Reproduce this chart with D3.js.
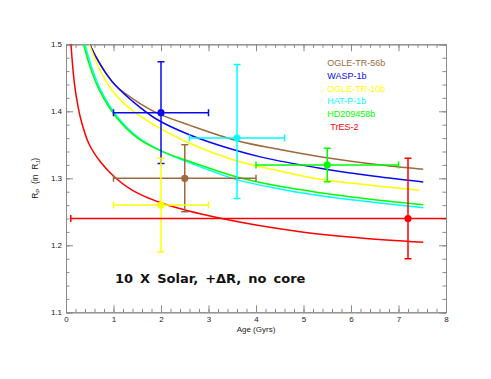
<!DOCTYPE html>
<html>
<head>
<meta charset="utf-8">
<script src="https://cdn.jsdelivr.net/npm/d3@7"></script>
<style>
  body { margin: 0; background: #fff; }
  .axis path, .axis line { stroke: #8a8a8a; }
  .axis text { fill: #222; font-size: 8px; font-family: "Liberation Sans", Arial, sans-serif; }
</style>
</head>
<body>
<svg id="chart"></svg>
<script>
var width = 491,
  height = 379;

var planets = ['OGLE-TR-56b', 'WASP-1b', 'OGLE-TR-10b', 'HAT-P-1b', 'HD209458b', 'TrES-2'];
var colors = ['#a0693d', '#0a0aef', '#ffff00', '#00ffff', '#00ff00', '#ff0000'];

// observed ages / radii with error bars
var obsAge = [2.5, 2.0, 2.0, 3.6, 5.5, 7.2];
var obsAgeLo = [1.0, 1.0, 1.0, 2.6, 4.0, 0.1];
var obsAgeHi = [4.0, 3.0, 3.0, 4.6, 7.0, 14.3];
var obsR = [1.30, 1.398, 1.26, 1.36, 1.32, 1.24];
var obsRLo = [1.25, 1.322, 1.19, 1.27, 1.295, 1.18];
var obsRHi = [1.35, 1.474, 1.33, 1.47, 1.345, 1.33];

// evolution tracks, [age, radius]
var trackOgle56 = [[0.5, 1.5], [0.64, 1.48], [0.84, 1.457], [1.05, 1.438], [1.4, 1.419], [1.9, 1.398],
  [2.61, 1.379], [3.6, 1.356], [4.5, 1.343], [5.45, 1.331], [6.5, 1.321], [7.52, 1.3134]];
var trackWasp1 = [[0.5, 1.5], [0.64, 1.48], [0.84, 1.4567], [1.05, 1.438], [1.4, 1.415], [1.9, 1.3885],
  [2.61, 1.3646], [3.46, 1.344], [4.09, 1.332], [5.35, 1.315], [6.5, 1.303], [7.52, 1.2945]];
var trackOgle10 = [[0.49, 1.5], [0.63, 1.475], [0.84, 1.445], [1.05, 1.424], [1.4, 1.401], [1.9, 1.378],
  [2.61, 1.352], [3.55, 1.327], [4.5, 1.311], [5.35, 1.2985], [6.5, 1.289], [7.44, 1.282]];
var trackHat1 = [[0.40, 1.5], [0.53, 1.468], [0.73, 1.432], [1.08, 1.392], [1.54, 1.36], [2.0, 1.341],
  [2.61, 1.323], [3.6, 1.298], [4.5, 1.284], [5.35, 1.274], [6.5, 1.264], [7.52, 1.2561]];
var trackHd209 = [[0.37, 1.5], [0.5, 1.468], [0.7, 1.432], [1.05, 1.392], [1.51, 1.36], [2.0, 1.341],
  [2.61, 1.325], [3.6, 1.302], [4.5, 1.288], [5.35, 1.2785], [6.5, 1.268], [7.52, 1.2606]];
var trackTres2 = [[0.105, 1.5], [0.15, 1.46], [0.21, 1.425], [0.316, 1.387], [0.48, 1.352], [0.72, 1.325],
  [1.02, 1.302], [1.4, 1.282], [2.04, 1.2625], [3.28, 1.24], [4.93, 1.2203], [6.2, 1.211], [7.52, 1.2045]];
var tracks = [trackOgle56, trackWasp1, trackOgle10, trackHat1, trackHd209, trackTres2];

var xTicks = d3.range(0, 9);
var yTicks = [1.1, 1.2, 1.3, 1.4, 1.5];

var margin = {top: 44.3, right: 45, bottom: 66.7, left: 66};
var plotW = width - margin.left - margin.right,
  plotH = height - margin.top - margin.bottom;

var x = d3.scaleLinear().domain([0, 8]).range([0, plotW]);
var y = d3.scaleLinear().domain([1.1, 1.5]).range([plotH, 0]);

var svg = d3.select('#chart')
  .attr('width', width)
  .attr('height', height)
  .style('font-family', '"Liberation Sans", Arial, sans-serif');

var g = svg.append('g')
  .attr('transform', 'translate(' + margin.left + ',' + margin.top + ')');

g.append('clipPath')
  .attr('id', 'clip')
  .append('rect')
  .attr('width', plotW)
  .attr('height', plotH);

// frame + ticks (inward, all sides)
var xMinor = d3.range(0, 8.001, 0.2);
var yMinor = d3.range(1.1, 1.5001, 0.02);

function noText(sel) { sel.selectAll('text').remove(); }

g.append('g').attr('class', 'axis')
  .attr('transform', 'translate(0,' + plotH + ')')
  .call(d3.axisBottom(x).tickValues(xMinor).tickSize(-3.5).tickFormat(''))
  .call(noText);
g.append('g').attr('class', 'axis')
  .attr('transform', 'translate(0,' + plotH + ')')
  .call(d3.axisBottom(x).tickValues(xTicks).tickSize(-7).tickPadding(4).tickFormat(d3.format('d')));
g.append('g').attr('class', 'axis')
  .call(d3.axisTop(x).tickValues(xMinor).tickSize(-3.5).tickFormat(''))
  .call(noText);
g.append('g').attr('class', 'axis')
  .call(d3.axisTop(x).tickValues(xTicks).tickSize(-7).tickFormat(''))
  .call(noText);

g.append('g').attr('class', 'axis')
  .call(d3.axisLeft(y).tickValues(yMinor).tickSize(-3.5).tickFormat(''))
  .call(noText);
g.append('g').attr('class', 'axis')
  .call(d3.axisLeft(y).tickValues(yTicks).tickSize(-7).tickPadding(4).tickFormat(d3.format('.1f')));
g.append('g').attr('class', 'axis')
  .attr('transform', 'translate(' + plotW + ',0)')
  .call(d3.axisRight(y).tickValues(yMinor).tickSize(-3.5).tickFormat(''))
  .call(noText);
g.append('g').attr('class', 'axis')
  .attr('transform', 'translate(' + plotW + ',0)')
  .call(d3.axisRight(y).tickValues(yTicks).tickSize(-7).tickFormat(''))
  .call(noText);

g.selectAll('.axis .domain').attr('stroke', '#8a8a8a');

// axis labels
g.append('text')
  .attr('x', plotW / 2)
  .attr('y', plotH + 20)
  .attr('text-anchor', 'middle')
  .attr('font-size', '8px')
  .attr('fill', '#222')
  .text('Age (Gyrs)');

var yl = g.append('text')
  .attr('transform', 'translate(-28,' + (plotH / 2) + ') rotate(-90)')
  .attr('text-anchor', 'middle')
  .attr('font-size', '8.5px')
  .attr('fill', '#222')
  .attr('xml:space', 'preserve');
yl.append('tspan').text('R');
yl.append('tspan').attr('font-size', '6px').attr('dy', 2).text('P');
yl.append('tspan').attr('dy', -2).text('  (in  R');
yl.append('tspan').attr('font-size', '6px').attr('dy', 2).text('J');
yl.append('tspan').attr('dy', -2).text(')');

var plot = g.append('g').attr('clip-path', 'url(#clip)');

// model tracks
var line = d3.line()
  .x(function(d) { return x(d[0]); })
  .y(function(d) { return y(d[1]); })
  .curve(d3.curveCatmullRom.alpha(0.5));

plot.selectAll('.track')
  .data(tracks)
  .enter().append('path')
  .attr('class', 'track')
  .attr('fill', 'none')
  .attr('stroke', function(d, i) { return colors[i]; })
  .attr('stroke-width', 1.5)
  .attr('d', line);

// observations with error bars
var idx = d3.range(planets.length);
var cap = 3.5;

var obs = plot.selectAll('.obs')
  .data(idx)
  .enter().append('g')
  .attr('class', 'obs')
  .attr('stroke', function(i) { return colors[i]; })
  .attr('fill', function(i) { return colors[i]; })
  .attr('stroke-width', 1.5);

obs.append('line')
  .attr('x1', function(i) { return x(obsAgeLo[i]); })
  .attr('x2', function(i) { return x(obsAgeHi[i]); })
  .attr('y1', function(i) { return y(obsR[i]); })
  .attr('y2', function(i) { return y(obsR[i]); });
obs.append('line')
  .attr('x1', function(i) { return x(obsAge[i]); })
  .attr('x2', function(i) { return x(obsAge[i]); })
  .attr('y1', function(i) { return y(obsRLo[i]); })
  .attr('y2', function(i) { return y(obsRHi[i]); });

[obsAgeLo, obsAgeHi].forEach(function(arr) {
  obs.append('line')
    .attr('x1', function(i) { return x(arr[i]); })
    .attr('x2', function(i) { return x(arr[i]); })
    .attr('y1', function(i) { return y(obsR[i]) - cap; })
    .attr('y2', function(i) { return y(obsR[i]) + cap; });
});
[obsRLo, obsRHi].forEach(function(arr) {
  obs.append('line')
    .attr('x1', function(i) { return x(obsAge[i]) - cap; })
    .attr('x2', function(i) { return x(obsAge[i]) + cap; })
    .attr('y1', function(i) { return y(arr[i]); })
    .attr('y2', function(i) { return y(arr[i]); });
});

obs.append('circle')
  .attr('stroke', 'none')
  .attr('cx', function(i) { return x(obsAge[i]); })
  .attr('cy', function(i) { return y(obsR[i]); })
  .attr('r', 3.6);

// legend
g.selectAll('.legend')
  .data(idx)
  .enter().append('text')
  .attr('class', 'legend')
  .attr('x', function(i) { return x(5.5) + (i === 5 ? 3 : 0); })
  .attr('y', function(i) { return 21.5 + i * 12.9; })
  .attr('font-size', '9px')
  .attr('fill', function(i) { return colors[i]; })
  .text(function(i) { return planets[i]; });

// model annotation
g.append('text')
  .attr('x', x(1.0) + 1.5)
  .attr('y', y(1.15) + 4.5)
  .style('font-family', '"DejaVu Sans", sans-serif')
  .attr('font-weight', 'bold')
  .attr('font-size', '13px')
  .attr('word-spacing', '2.5px')
  .attr('fill', '#111')
  .text('10 X Solar, +\u0394R, no core');
</script>
</body>
</html>
